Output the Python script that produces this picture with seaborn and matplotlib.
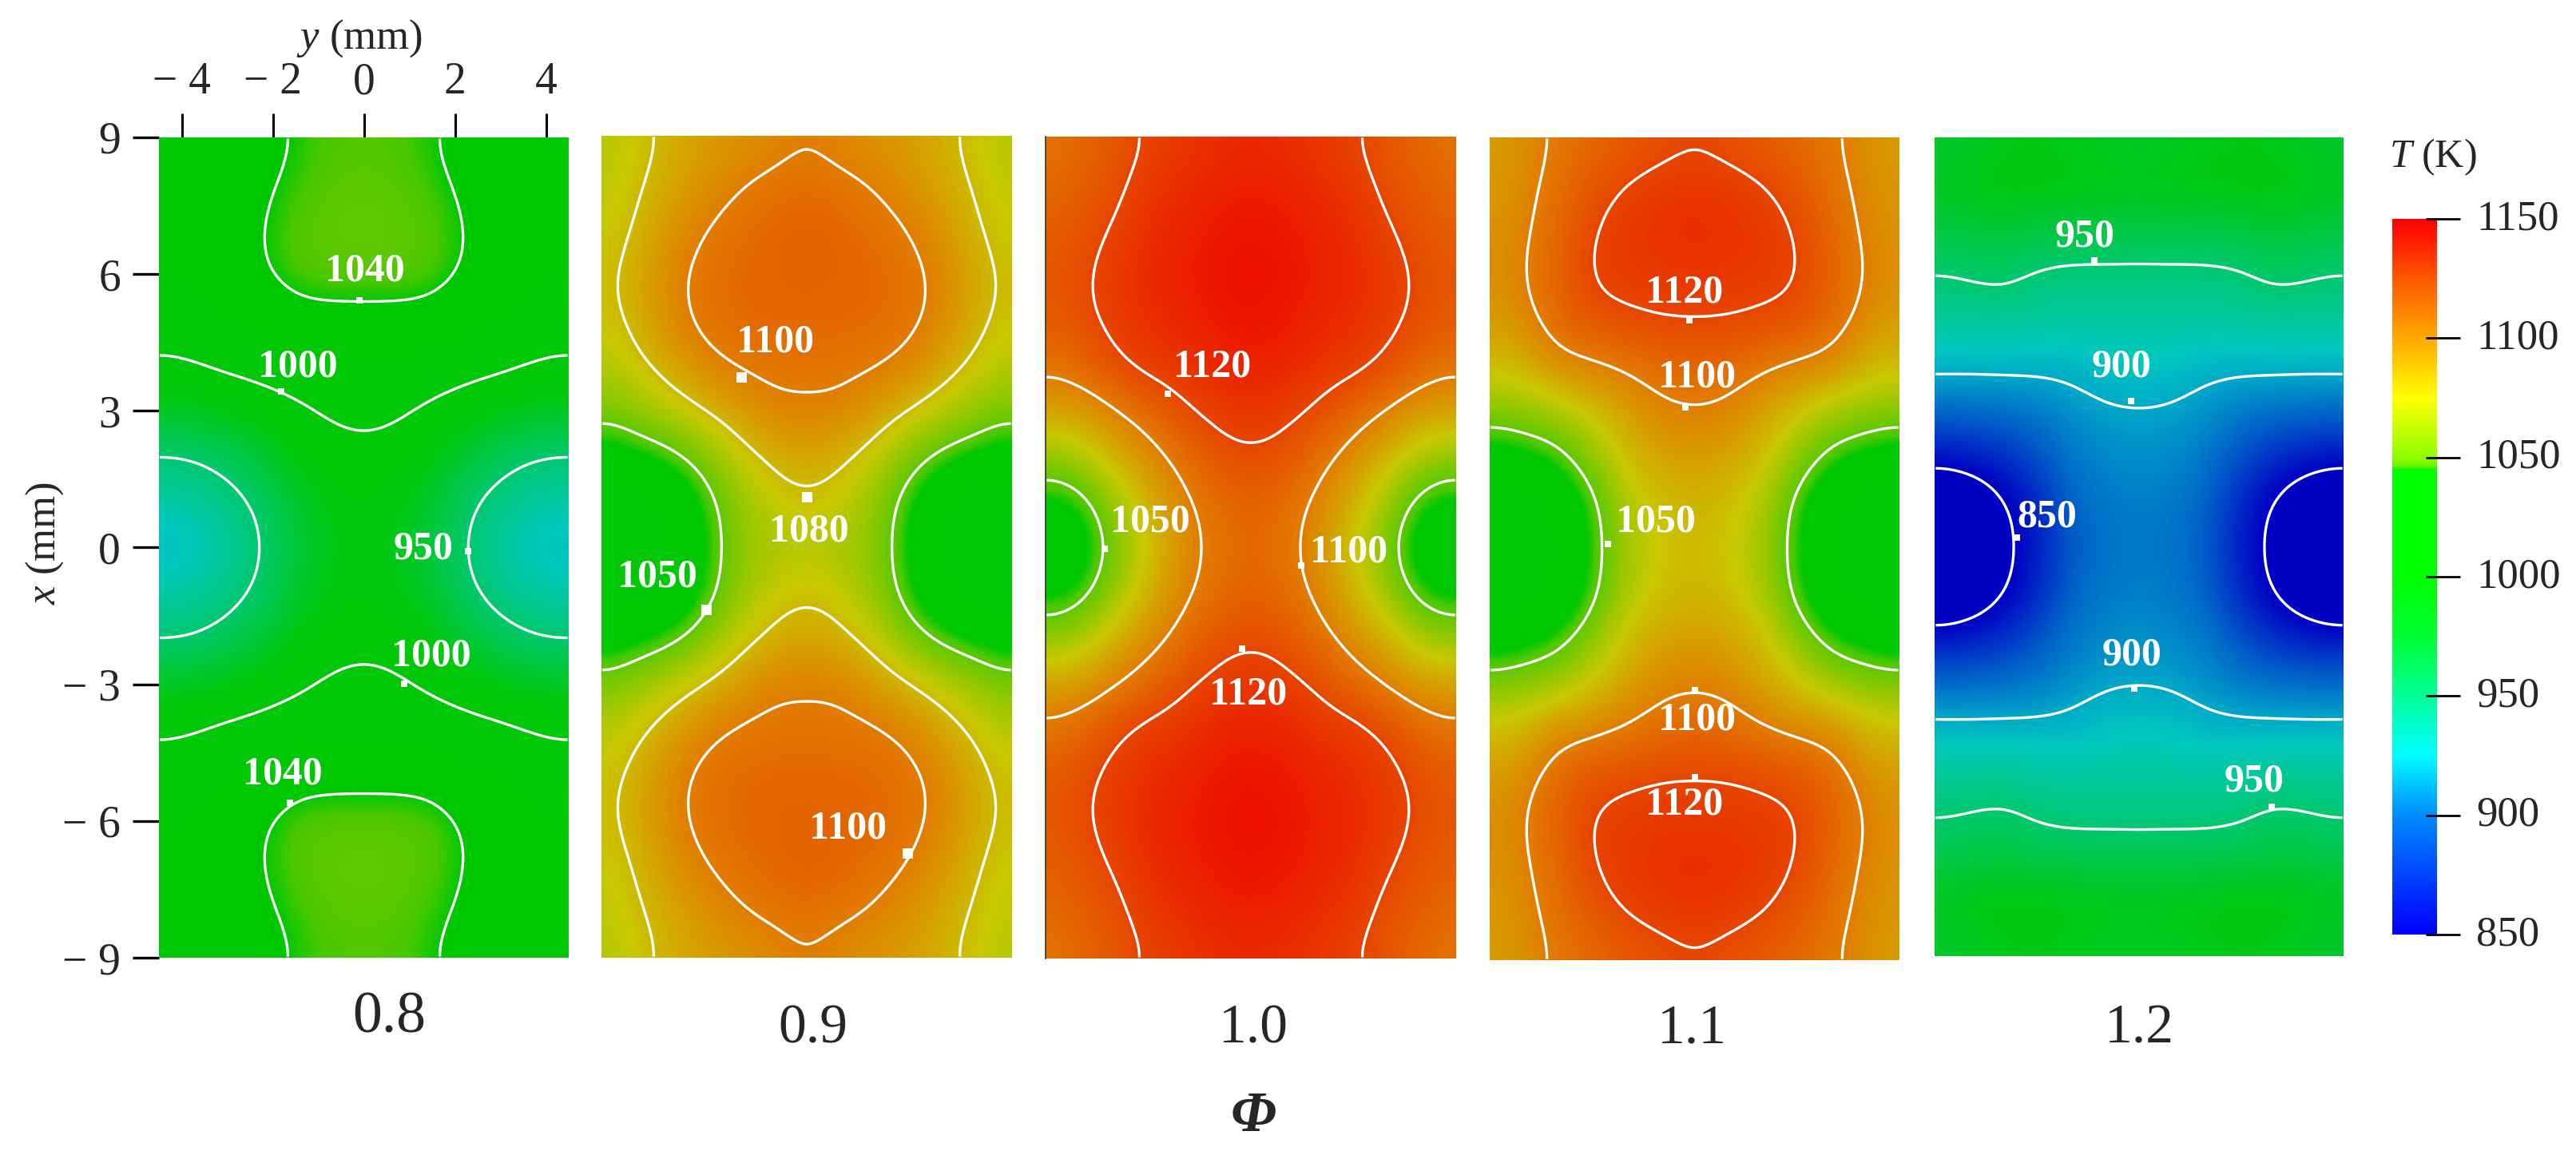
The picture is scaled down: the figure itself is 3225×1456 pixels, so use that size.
import numpy as np
import matplotlib
matplotlib.use("Agg")
import matplotlib.pyplot as plt
from matplotlib.colors import LinearSegmentedColormap
import seaborn as sns

sns.set_style("white")
plt.rcParams.update({
    'font.family': 'Liberation Serif',
    'mathtext.fontset': 'custom',
    'mathtext.rm': 'Liberation Serif',
    'mathtext.it': 'Liberation Serif:italic',
    'mathtext.bf': 'Liberation Serif:bold',
})

W, H = 3225, 1456

# temperature (K), one quadrant: rows x = 0..9 mm, columns y_mm
x_mm = [0, 1, 2, 3, 4, 5, 6, 7, 8, 9]
y_mm = [0, 0.75, 1.5, 2.25, 3, 3.75, 4.5]

phi_08 = [
    [985, 980, 968, 950, 928, 912, 902],
    [988, 984, 972, 955, 941, 930, 925],
    [995, 993, 985, 970, 959, 951, 949],
    [1005, 1002, 996, 990, 983, 978, 976],
    [1018, 1015, 1011, 1007, 1004, 999, 996],
    [1034, 1034, 1033, 1025, 1021, 1014, 1011],
    [1049, 1049, 1047, 1039, 1029, 1022, 1019],
    [1052, 1051, 1048, 1040, 1032, 1025, 1022],
    [1050, 1049, 1044, 1037, 1030, 1023, 1020],
    [1047, 1046, 1041, 1033, 1027, 1021, 1018],
]
phi_09 = [
    [1070, 1066, 1061, 1038, 1018, 1005, 1000],
    [1078, 1074, 1062, 1042, 1022, 1010, 1005],
    [1088, 1083, 1074, 1058, 1045, 1038, 1030],
    [1098, 1098, 1090, 1081, 1072, 1063, 1056],
    [1104, 1103, 1102, 1097, 1087, 1077, 1068],
    [1108, 1108, 1107, 1104, 1096, 1084, 1075],
    [1110, 1109, 1108, 1104, 1097, 1085, 1076],
    [1110, 1109, 1105, 1100, 1092, 1081, 1073],
    [1106, 1103, 1099, 1093, 1086, 1078, 1070],
    [1098, 1094, 1091, 1088, 1083, 1075, 1068],
]
phi_10 = [
    [1108, 1104, 1094, 1075, 1056, 1030, 1015],
    [1110, 1106, 1097, 1083, 1064, 1042, 1036],
    [1118, 1115, 1105, 1094, 1083, 1068, 1060],
    [1128, 1124, 1118, 1108, 1099, 1090, 1088],
    [1136, 1134, 1127, 1125, 1118, 1108, 1103],
    [1142, 1140, 1134, 1130, 1124, 1117, 1111],
    [1144, 1142, 1137, 1132, 1125, 1118, 1113],
    [1142, 1140, 1135, 1130, 1121, 1115, 1110],
    [1137, 1135, 1130, 1126, 1116, 1111, 1106],
    [1131, 1129, 1125, 1121, 1113, 1107, 1102],
]
phi_11 = [
    [1080, 1076, 1066, 1043, 1018, 1005, 1000],
    [1082, 1078, 1069, 1045, 1024, 1010, 1004],
    [1090, 1087, 1079, 1061, 1044, 1036, 1031],
    [1099, 1097, 1088, 1078, 1066, 1062, 1058],
    [1109, 1107, 1102, 1098, 1096, 1083, 1078],
    [1120, 1120, 1118, 1115, 1108, 1096, 1088],
    [1127, 1126, 1125, 1122, 1110, 1100, 1092],
    [1130, 1129, 1126, 1120, 1108, 1098, 1091],
    [1127, 1125, 1121, 1114, 1105, 1096, 1089],
    [1117, 1114, 1110, 1106, 1102, 1094, 1087],
]
phi_12 = [
    [885, 883, 875, 858, 845, 835, 830],
    [887, 885, 878, 860, 848, 838, 832],
    [892, 890, 884, 872, 862, 857, 855],
    [898, 897, 892, 885, 882, 880, 879],
    [915, 912, 905, 904, 904, 904, 905],
    [928, 928, 928, 930, 935, 934, 932],
    [945, 945, 945, 948, 957, 953, 950],
    [965, 966, 966, 967, 970, 968, 965],
    [982, 984, 985, 987, 987, 984, 978],
    [975, 976, 978, 980, 978, 973, 968],
]

panels = [phi_08, phi_09, phi_10, phi_11, phi_12]
panel_names = ['0.8', '0.9', '1.0', '1.1', '1.2']
panel_levels = [
    [950, 1000, 1040],
    [1050, 1080, 1100],
    [1050, 1100, 1120],
    [1050, 1100, 1120],
    [850, 900, 950],
]

# panel edges in pixels of the final picture: left, right, top, bottom
panel_boxes = [
    (199, 712, 172, 1199),
    (753, 1267, 170, 1199),
    (1309, 1823, 171, 1200),
    (1865, 2378, 172, 1202),
    (2422, 2934, 172, 1197),
]
name_pos = [(487, 1275, 53), (1018, 1289, 50), (1569, 1289, 50), (2118, 1289, 50), (2678, 1289, 50)]

# contour labels: text, y (mm), x (mm)
labels = [
    [('1040', 0.02, 6.07), ('1000', -1.45, 3.96), ('950', 1.31, -0.04), ('1000', 1.48, -2.39), ('1040', -1.78, -4.98)],
    [('1100', -0.69, 4.48), ('1080', 0.05, 0.33), ('1050', -3.28, -0.67), ('1100', 0.91, -6.17)],
    [('1120', -0.84, 3.96), ('1050', -2.2, 0.56), ('1100', 2.14, -0.11), ('1120', -0.06, -3.21)],
    [('1120', -0.22, 5.6), ('1100', 0.05, 3.74), ('1050', -0.86, 0.59), ('1100', 0.05, -3.74), ('1120', -0.22, -5.6)],
    [('950', -1.2, 6.81), ('900', -0.39, 3.95), ('850', -2.03, 0.65), ('900', -0.15, -2.39), ('950', 2.53, -5.16)],
]
# small markers on the contour lines: y (mm), x (mm)
dots = [
    [(-0.1, 5.42), (-1.81, 3.42), (2.29, -0.08), (0.89, -2.98), (-1.62, -5.6)],
    [(-1.44, 3.72), (0, 1.1), (-2.2, -1.37), (2.2, -6.7)],
    [(-1.82, 3.37), (-3.2, -0.02), (1.1, -0.4), (-0.19, -2.22)],
    [(-0.11, 5.0), (-0.2, 3.09), (-1.91, 0.1), (0, -3.1), (0, -5.0)],
    [(-0.99, 6.29), (-0.18, 3.2), (-2.69, 0.2), (-0.1, -3.12), (2.91, -5.71)],
]
dot_sizes = [8, 13, 8, 8, 8]

y_ticks = [-4, -2, 0, 2, 4]
x_ticks = [9, 6, 3, 0, -3, -6, -9]
bar_ticks = [1150, 1100, 1050, 1000, 950, 900, 850]

t_min, t_max = 850, 1150

# the panels are drawn darker than the colour bar next to them
panel_stops = [
    (850, (0, 0, 195)), (875, (0, 90, 200)), (900, (0, 170, 200)), (915, (0, 200, 190)),
    (950, (0, 200, 110)), (985, (0, 200, 10)), (1040, (0, 200, 0)), (1046, (75, 200, 0)),
    (1075, (200, 200, 0)), (1100, (225, 125, 0)), (1120, (230, 70, 0)), (1150, (240, 0, 0)),
]
bar_stops = [
    (850, (0, 0, 255)), (900, (0, 140, 255)), (925, (0, 255, 255)), (950, (0, 255, 150)),
    (975, (0, 255, 50)), (1000, (0, 255, 0)), (1045, (0, 255, 0)), (1047, (115, 240, 0)),
    (1050, (140, 255, 0)), (1075, (255, 255, 0)), (1100, (255, 170, 0)), (1125, (255, 90, 0)),
    (1150, (255, 0, 0)),
]


def make_cmap(stops, name):
    items = [((v - t_min) / (t_max - t_min), tuple(c / 255 for c in col)) for v, col in stops]
    return LinearSegmentedColormap.from_list(name, items, N=512)


panel_cmap = make_cmap(panel_stops, 'panel')
bar_cmap = make_cmap(bar_stops, 'bar')


def bspline(a, n):
    # cubic b-spline smoothing of a grid along axis 0 (rounds off the coarse reading grid)
    m = a.shape[0]
    t = np.linspace(0, m - 1, (m - 1) * n + 1)
    i = np.clip(np.floor(t).astype(int), 0, m - 2)
    f = (t - i)[:, None]
    p0 = a[np.abs(i - 1)]
    p1 = a[i]
    p2 = a[i + 1]
    p3 = a[m - 1 - np.abs(m - 1 - (i + 2))]
    return (((1 - f) ** 3) * p0 + (3 * f ** 3 - 6 * f ** 2 + 4) * p1
            + (-3 * f ** 3 + 3 * f ** 2 + 3 * f + 1) * p2 + (f ** 3) * p3) / 6


def full_field(quadrant):
    q = np.array(quadrant, dtype=float)
    # mirror about y = 0, then about x = 0; top row is x = 9
    whole = np.hstack([q[:, :0:-1], q])
    whole = np.vstack([whole[:0:-1], whole])
    fine = bspline(whole, 20)
    fine = bspline(fine.T, 16).T
    return fine


def add_axes_px(fig, left, right, top, bottom):
    return fig.add_axes([left / W, 1 - bottom / H, (right - left) / W, (bottom - top) / H])


def tlabel(v):
    return f"\u2212 {abs(v)}" if v < 0 else str(v)


fig = plt.figure(figsize=(W / 100, H / 100), dpi=100)

for k, quadrant in enumerate(panels):
    ax = add_axes_px(fig, *panel_boxes[k])
    field = full_field(quadrant)
    nrow, ncol = field.shape
    sns.heatmap(field, ax=ax, cmap=panel_cmap, vmin=t_min, vmax=t_max, cbar=False,
                xticklabels=False, yticklabels=False, square=False)
    xs = np.arange(ncol) + 0.5
    ys = np.arange(nrow) + 0.5
    ax.contour(xs, ys, field, levels=panel_levels[k], colors='white', linewidths=2.4)

    col = lambda y: (y + 4.5) / 9 * ncol
    row = lambda x: (9 - x) / 18 * nrow

    for text, y, x in labels[k]:
        ax.text(col(y), row(x), text, color='white', fontsize=36, fontweight='bold',
                ha='center', va='center')
    for y, x in dots[k]:
        ax.plot([col(y)], [row(x)], marker='s', ms=dot_sizes[k] * 0.72, color='white', mew=0)

    if k == 0:
        ax.set_xticks([col(v) for v in y_ticks])
        ax.set_xticklabels([tlabel(v) for v in y_ticks], fontsize=40)
        ax.set_yticks([row(v) for v in x_ticks])
        ax.set_yticklabels([tlabel(v) for v in x_ticks], fontsize=40, rotation=0)
        ax.xaxis.tick_top()
        ax.tick_params(axis='x', length=21.6, width=2.2, pad=9, color='black', top=True, bottom=False)
        ax.tick_params(axis='y', length=23.5, width=2.4, pad=11, color='black', left=True)
    else:
        ax.set_xticks([])
        ax.set_yticks([])
    if k == 2:
        ax.spines['left'].set_visible(True)
        ax.spines['left'].set_color('#333333')
        ax.spines['left'].set_linewidth(1.2)

    nx, ny, fs = name_pos[k]
    fig.text(nx / W, 1 - ny / H, panel_names[k], fontsize=fs, ha='center', va='center')

# colour bar
cax = add_axes_px(fig, 2995, 3051, 274, 1170)
ramp = np.arange(t_max, t_min - 1, -1.0)[:, None]
sns.heatmap(ramp, ax=cax, cmap=bar_cmap, vmin=t_min, vmax=t_max, cbar=False,
            xticklabels=False, yticklabels=False)
cax.set_xticks([])
cax.set_yticks([])
for v in bar_ticks:
    r = (t_max - v) / (t_max - t_min) * len(ramp)
    cax.plot([0.75, 1.52], [r, r], color='black', lw=2.0, clip_on=False, solid_capstyle='butt')
    cax.text(1.88, r, str(v), fontsize=38, ha='left', va='center')

fig.text(3046 / W, 1 - 197 / H, '$T$ (K)', fontsize=36, ha='center', va='center')
fig.text(450 / W, 1 - 48 / H, '$y$ (mm)', fontsize=38, ha='center', va='center')
fig.text(56 / W, 1 - 680 / H, '$x$ (mm)', fontsize=38, ha='center', va='center', rotation=90)
fig.text(1569 / W, 1 - 1398 / H, '\u03a6', fontsize=52, fontweight='bold', fontstyle='italic',
         ha='center', va='center')

fig.savefig('out.png', dpi=100)
